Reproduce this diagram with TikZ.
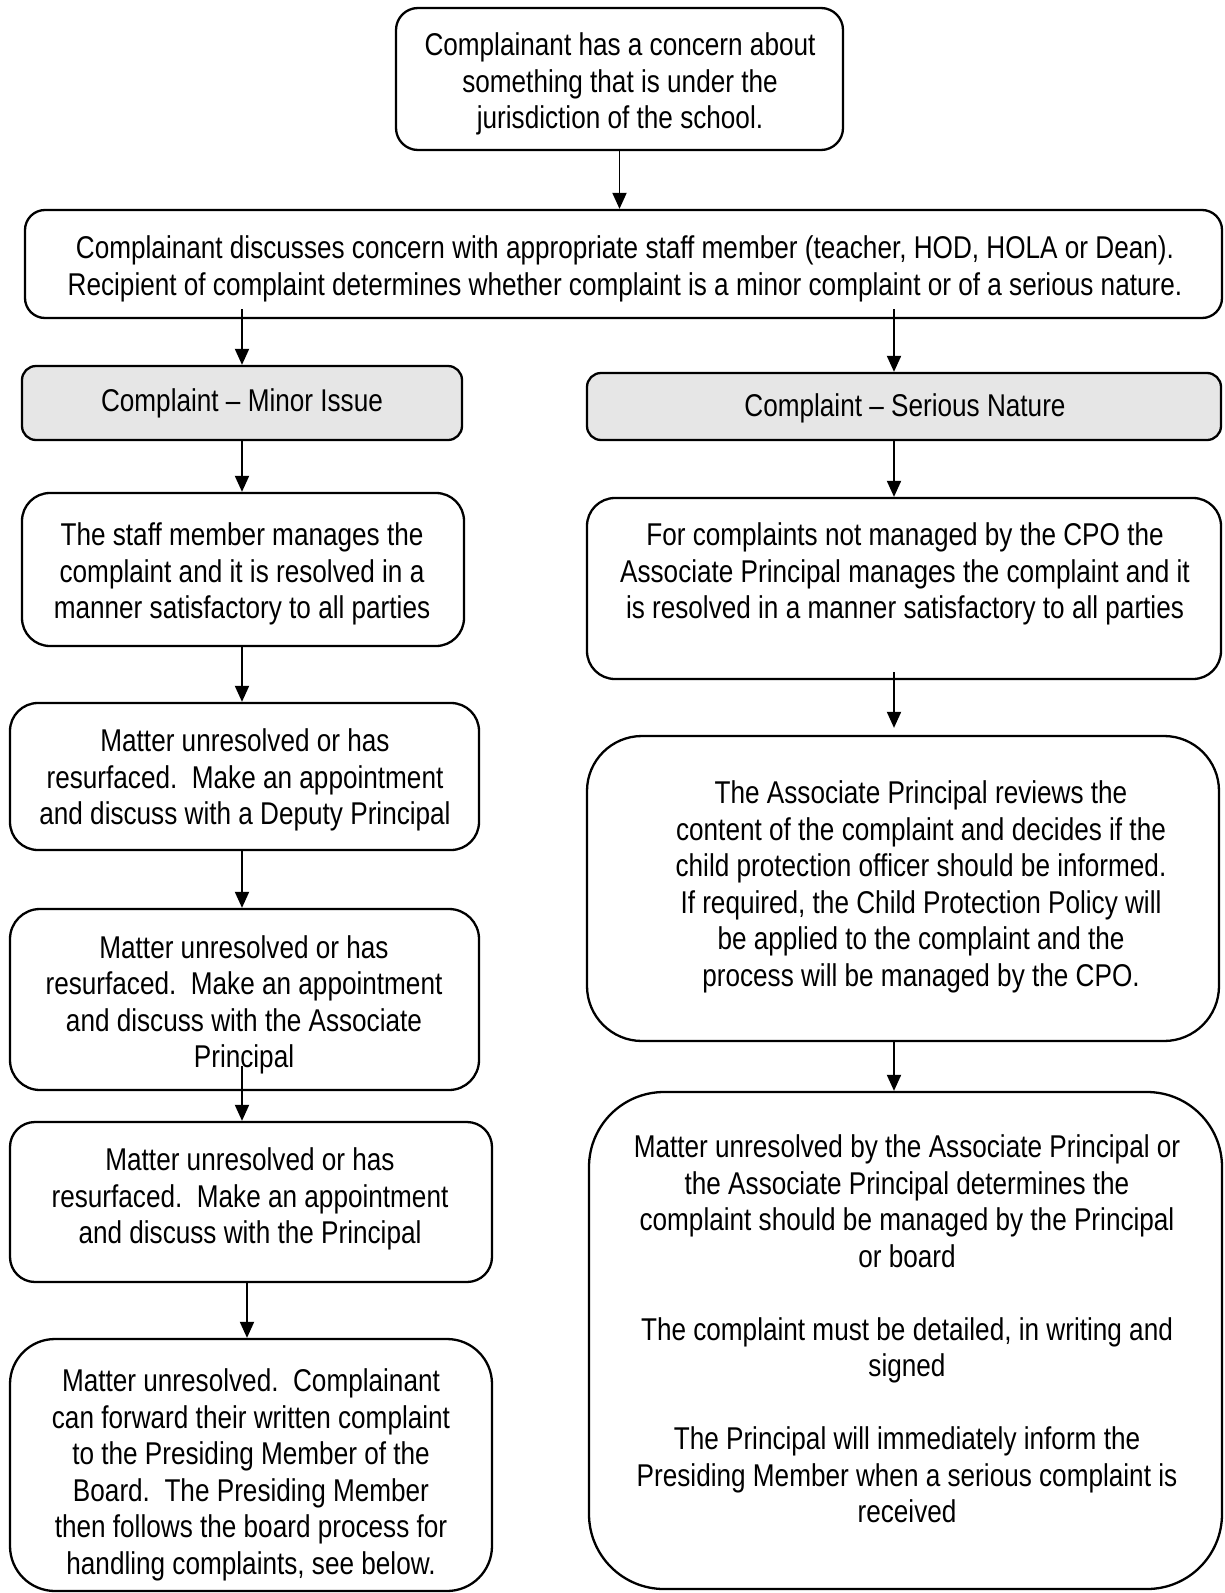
\documentclass[tikz,border=0pt]{standalone}
\usepackage{fontspec}
\setmainfont[FakeStretch=0.83]{Liberation Sans}
\usetikzlibrary{arrows.meta,calc}
\definecolor{boxgray}{RGB}{230,230,230}
\begin{document}
\begin{tikzpicture}[x=1pt,y=-1pt,
  box/.style={draw=black,line width=2.3pt,rounded corners=#1,inner sep=0pt},
  box/.default=20pt,
  txt/.style={align=center,inner sep=0pt,font=\fontsize{31.5}{36.5}\selectfont},
  arr/.style={line width=1.9pt,-{Triangle[width=14pt,length=16pt]}}
]
\useasboundingbox (0,0) rectangle (1225,1593);
% boxes
\node[box=22pt,minimum width=447pt,minimum height=142pt] (top) at (619.5,79) {};
\node[box=20pt,minimum width=1197pt,minimum height=108pt] (b2) at (623.5,264) {};
\node[box=14pt,fill=boxgray,minimum width=440pt,minimum height=74pt] (minor) at (242,403) {};
\node[box=14pt,fill=boxgray,minimum width=634pt,minimum height=67pt] (serious) at (904,406.5) {};
\node[box=28pt,minimum width=442pt,minimum height=153pt] (staff) at (243,569.5) {};
\node[box=28pt,minimum width=634pt,minimum height=181pt] (cpo) at (904,588.5) {};
\node[box=28pt,minimum width=469pt,minimum height=147pt] (deputy) at (244.5,776.5) {};
\node[box=55pt,minimum width=632pt,minimum height=305pt] (reviews) at (903,888.5) {};
\node[box=30pt,minimum width=469pt,minimum height=181pt] (assoc) at (244.5,999.5) {};
\node[box=25pt,minimum width=482pt,minimum height=160pt] (principal) at (251,1202) {};
\node[box=45pt,minimum width=482pt,minimum height=252pt] (board) at (251,1465) {};
\node[box=75pt,minimum width=633pt,minimum height=497pt] (final) at (905.5,1340.5) {};
% texts
\node[txt] (t-top) at (620,84) {Complainant has a concern about\\something that is under the\\jurisdiction of the school.};
\node[txt] (t-b2) at (625,269) {Complainant discusses concern with appropriate staff member (teacher, HOD, HOLA or Dean).\\Recipient of complaint determines whether complaint is a minor complaint or of a serious nature.};
\node[txt] (t-minor) at (242,403) {Complaint -- Minor Issue};
\node[txt] (t-serious) at (905,408) {Complaint -- Serious Nature};
\node[txt] (t-staff) at (242,574) {The staff member manages the\\complaint and it is resolved in a\\manner satisfactory to all parties};
\node[txt] (t-cpo) at (905,574) {For complaints not managed by the CPO the\\Associate Principal manages the complaint and it\\is resolved in a manner satisfactory to all parties};
\node[txt] (t-deputy) at (245,780) {Matter unresolved or has\\resurfaced.\ \ Make an appointment\\and discuss with a Deputy Principal};
\node[txt] (t-reviews) at (921,887) {The Associate Principal reviews the\\content of the complaint and decides if the\\child protection officer should be informed.\\If required, the Child Protection Policy will\\be applied to the complaint and the\\process will be managed by the CPO.};
\node[txt] (t-assoc) at (244,1005) {Matter unresolved or has\\resurfaced.\ \ Make an appointment\\and discuss with the Associate\\Principal};
\node[txt] (t-principal) at (250,1199) {Matter unresolved or has\\resurfaced.\ \ Make an appointment\\and discuss with the Principal};
\node[txt] (t-board) at (251,1475) {Matter unresolved.\ \ Complainant\\can forward their written complaint\\to the Presiding Member of the\\Board.\ \ The Presiding Member\\then follows the board process for\\handling complaints, see below.};
\node[txt] (t-final) at (907,1329) {Matter unresolved by the Associate Principal or\\the Associate Principal determines the\\complaint should be managed by the Principal\\or board\\[36.5pt]The complaint must be detailed, in writing and\\signed\\[36.5pt]The Principal will immediately inform the\\Presiding Member when a serious complaint is\\received};
% columns
\coordinate (L) at (242,0);
\coordinate (R) at (894,0);
\coordinate (L2) at (247,0);
% connectors
\draw[arr] (top.south) -- (b2.north -| top.south);
\draw[arr] ($(b2.south -| L)+(0,-10)$) -- (minor.north -| L);
\draw[arr] ($(b2.south -| R)+(0,-10)$) -- (serious.north -| R);
\draw[arr] (minor.south -| L) -- (staff.north -| L);
\draw[arr] (serious.south -| R) -- (cpo.north -| R);
\draw[arr] (staff.south -| L) -- (deputy.north -| L);
\draw[arr] ($(cpo.south -| R)+(0,-8)$) -- ($(reviews.north -| R)+(0,-7)$);
\draw[arr] (deputy.south -| L) -- (assoc.north -| L);
\draw[arr] (reviews.south -| R) -- (final.north -| R);
\draw[arr] ($(assoc.south -| L)+(0,-25)$) -- (principal.north -| L);
\draw[arr] (principal.south -| L2) -- (board.north -| L2);
\end{tikzpicture}
\end{document}
